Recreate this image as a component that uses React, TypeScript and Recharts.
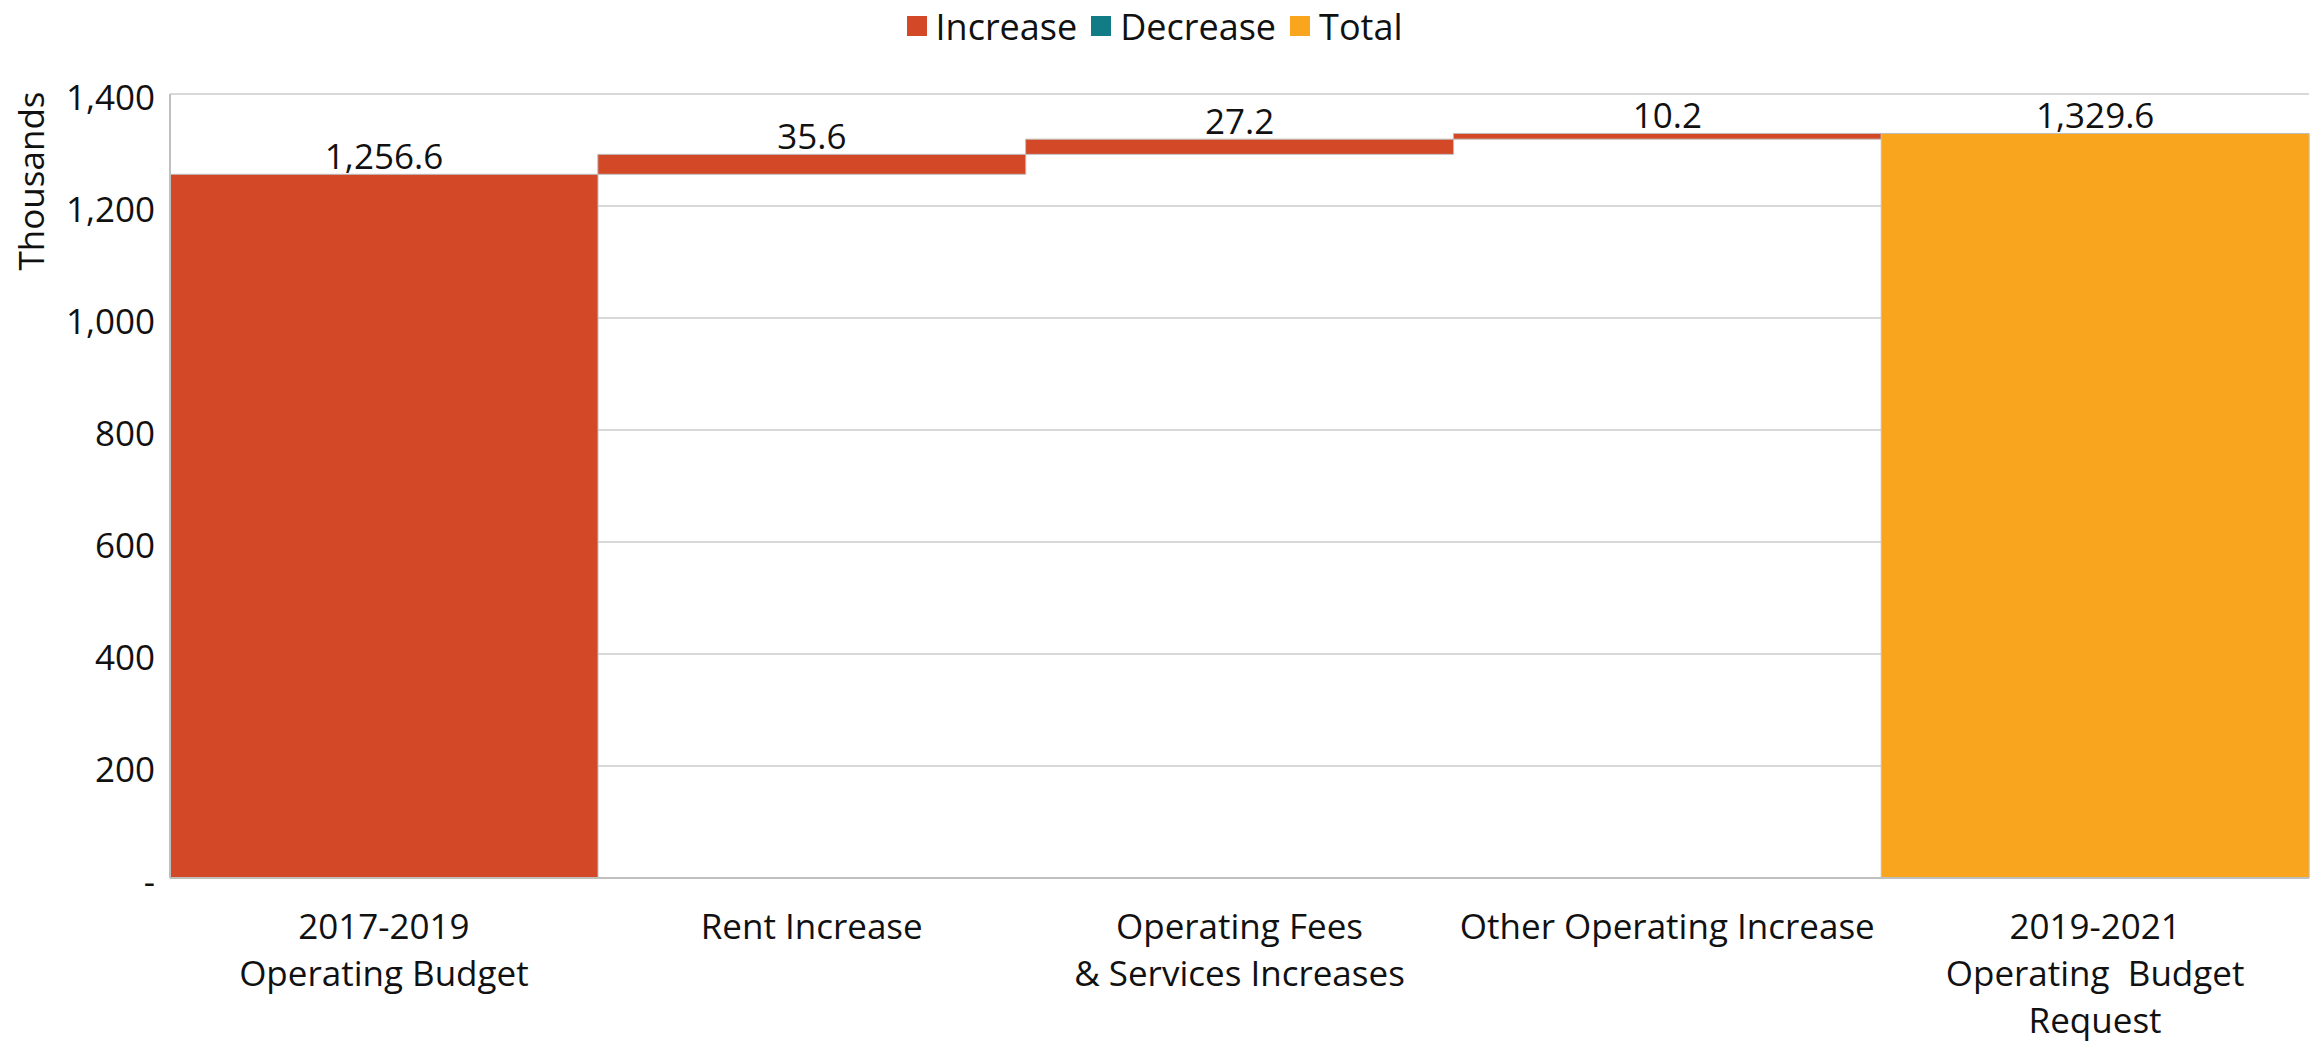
import React from 'react';
import { BarChart, Bar, XAxis, YAxis, CartesianGrid, Legend, LabelList, Label } from 'recharts';

const FONT = "'Segoe UI', 'Open Sans', sans-serif";
const FS = 35;

const categories = [
  '2017-2019\nOperating Budget',
  'Rent Increase',
  'Operating Fees\n& Services Increases',
  'Other Operating Increase',
  '2019-2021\nOperating  Budget\nRequest',
];
const increaseValues: (number | null)[] = [1256.6, 35.6, 27.2, 10.2, null];
const decreaseValues: (number | null)[] = [null, null, null, null, null];
const totalValues: (number | null)[] = [null, null, null, null, 1329.6];
const yTicks = [0, 200, 400, 600, 800, 1000, 1200, 1400];
const legendOrder = ['Increase', 'Decrease', 'Total'];

const COLORS = { increase: '#D34927', decrease: '#127C86', total: '#F9A51E' };

// waterfall table: invisible base = running total before each step
let running = 0;
const data = categories.map((name, i) => {
  const inc = increaseValues[i];
  const dec = decreaseValues[i];
  const tot = totalValues[i];
  let base = 0;
  if (tot != null) {
    base = 0;
    running = tot;
  } else if (inc != null) {
    base = running;
    running += inc;
  } else if (dec != null) {
    running -= dec;
    base = running;
  }
  return { name, base, increase: inc, decrease: dec, total: tot };
});

const fmtLabel = (v: any) =>
  v == null || v === 0 ? '' : Number(v).toLocaleString('en-US', { minimumFractionDigits: 1, maximumFractionDigits: 1 });
const fmtTick = (v: number) => (v === 0 ? '-' : v.toLocaleString('en-US'));

const CategoryTick = (props: any) => {
  const { x, y, payload } = props;
  const lines = String(payload.value).split('\n');
  return (
    <text x={x} y={y} textAnchor="middle" fill="#111" fontSize={FS} fontFamily={FONT} style={{ whiteSpace: 'pre' }}>
      {lines.map((l, i) => (
        <tspan key={i} x={x} dy={i === 0 ? 59 : 47}>
          {l}
        </tspan>
      ))}
    </text>
  );
};

const LegendContent = (props: any) => {
  const items = (props.payload || [])
    .filter((p: any) => p.type !== 'none' && legendOrder.includes(p.value))
    .sort((a: any, b: any) => legendOrder.indexOf(a.value) - legendOrder.indexOf(b.value));
  return (
    <div style={{ height: 88, display: 'flex', justifyContent: 'center', alignItems: 'flex-start', fontFamily: FONT, fontSize: 36, color: '#111' }}>
      {items.map((p: any, i: number) => (
        <div key={i} style={{ display: 'flex', alignItems: 'center', height: 40, marginRight: i < items.length - 1 ? 14 : 0 }}>
          <span style={{ display: 'inline-block', width: 20, height: 20, background: p.color, marginRight: 9 }} />
          <span>{p.value}</span>
        </div>
      ))}
    </div>
  );
};

const YLabel = (props: any) => {
  const vb = props.viewBox || { x: 0, y: 0 };
  const cx = vb.x + 30;
  const cy = vb.y + 87;
  return (
    <text
      transform={`translate(${cx}, ${cy}) rotate(-90)`}
      textAnchor="middle"
      dominantBaseline="central"
      fontSize={FS}
      fontFamily={FONT}
      fill="#111"
    >
      Thousands
    </text>
  );
};

export default function App() {
  return (
    <div style={{ position: 'absolute', left: 0, top: 0, width: 2315, height: 1043, background: '#fff' }}>
      <BarChart
        width={2315}
        height={1043}
        data={data}
        margin={{ top: 6, right: 6, bottom: 0, left: 0 }}
        barCategoryGap={0}
        barGap={0}
      >
        <Legend verticalAlign="top" align="center" content={<LegendContent />} />
        <CartesianGrid vertical={false} stroke="#D9D9D9" strokeWidth={2} />
        <XAxis
          dataKey="name"
          interval={0}
          height={165}
          tick={<CategoryTick />}
          tickLine={false}
          tickSize={0}
          axisLine={{ stroke: '#BFBFBF', strokeWidth: 2 }}
        />
        <YAxis
          width={170}
          domain={[0, 1400]}
          ticks={yTicks}
          tickFormatter={fmtTick}
          tickLine={false}
          tickSize={0}
          tickMargin={15}
          axisLine={{ stroke: '#BFBFBF', strokeWidth: 2 }}
          tick={{ fontSize: FS, fontFamily: FONT, fill: '#111', dy: 4 }}
        >
          <Label content={<YLabel />} />
        </YAxis>
        <Bar dataKey="base" stackId="w" fill="transparent" legendType="none" isAnimationActive={false} />
        <Bar dataKey="increase" name="Increase" stackId="w" fill={COLORS.increase} stroke="#BFBFBF" strokeWidth={1} isAnimationActive={false}>
          <LabelList dataKey="increase" position="top" formatter={fmtLabel} fontSize={FS} fontFamily={FONT} fill="#111" />
        </Bar>
        <Bar dataKey="decrease" name="Decrease" stackId="w" fill={COLORS.decrease} stroke="#BFBFBF" strokeWidth={1} isAnimationActive={false} />
        <Bar dataKey="total" name="Total" stackId="w" fill={COLORS.total} stroke="#BFBFBF" strokeWidth={1} isAnimationActive={false}>
          <LabelList dataKey="total" position="top" formatter={fmtLabel} fontSize={FS} fontFamily={FONT} fill="#111" />
        </Bar>
      </BarChart>
    </div>
  );
}
